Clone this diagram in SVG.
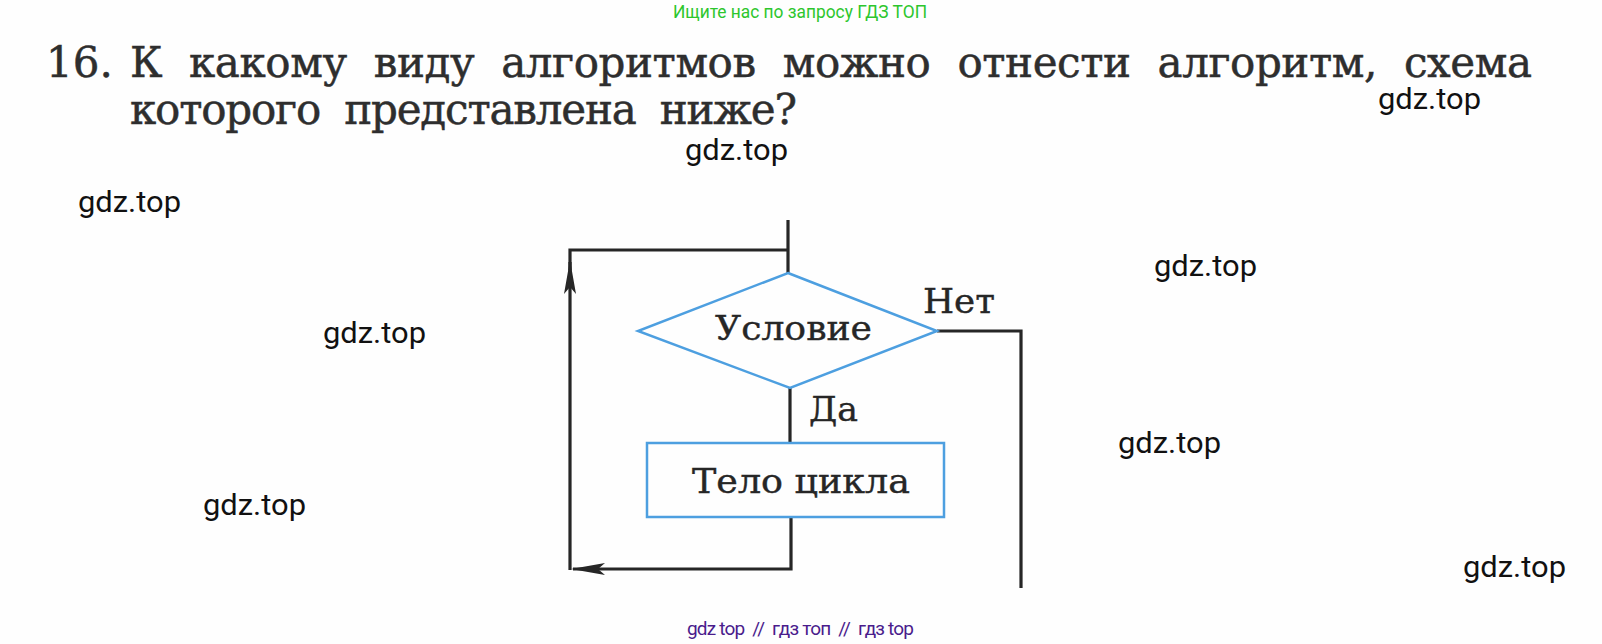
<svg xmlns="http://www.w3.org/2000/svg" width="1602" height="644" viewBox="0 0 1602 644">
<style>
.hdr{font-family:"DejaVu Serif","Liberation Serif",serif;font-size:42px;fill:#2e2e2e;stroke:#2e2e2e;stroke-width:0.5}
.lbl{font-family:"DejaVu Serif","Liberation Serif",serif;font-size:34px;fill:#262626;stroke:#262626;stroke-width:0.4}
.wm{font-family:Roboto,"Liberation Sans",sans-serif;font-size:29px;fill:#111}
.shape{fill:none;stroke:#4d9fe0;stroke-width:2.5}
.conn{fill:none;stroke:#262626;stroke-width:3.2;stroke-linejoin:miter}
</style>
<defs>
<marker id="arr" viewBox="0 0 34 13" refX="32" refY="6.5" markerWidth="34" markerHeight="13" markerUnits="userSpaceOnUse" orient="auto">
<path d="M0,0.5 L34,6.5 L0,12.5 L7,6.5 z" fill="#262626"/>
</marker>
</defs>
<rect width="1602" height="644" fill="#fefefe"/>
<text x="673" y="18" font-family="Roboto,'Liberation Sans',sans-serif" font-size="18" fill="#2dc62d" textLength="254" lengthAdjust="spacingAndGlyphs">Ищите нас по запросу ГДЗ ТОП</text>
<g id="question">
<text class="hdr" x="46" y="77">16.</text>
<text class="hdr" x="130" y="77" textLength="1402" lengthAdjust="spacing" word-spacing="14">К какому виду алгоритмов можно отнести алгоритм, схема</text>
<text class="hdr" x="130" y="124" textLength="667" lengthAdjust="spacing" word-spacing="12">которого представлена ниже?</text>
</g>
<g id="connectors">
<path class="conn" d="M788,220 V273"/>
<path class="conn" d="M790,388 V443"/>
<path class="conn" d="M791,517 V569 H573" marker-end="url(#arr)"/>
<path class="conn" d="M570,570 V262" marker-end="url(#arr)"/>
<path class="conn" d="M570,270 V250 H789"/>
<path class="conn" d="M937,331 H1021 V588"/>
</g>
<g id="condition">
<polygon class="shape" points="788,273 937,331 790,388 638,331"/>
<text class="lbl" x="715" y="340" textLength="157" lengthAdjust="spacingAndGlyphs">Условие</text>
</g>
<g id="body">
<rect class="shape" x="647" y="443" width="297" height="74"/>
<text class="lbl" x="692" y="493" textLength="218" lengthAdjust="spacingAndGlyphs">Тело цикла</text>
</g>
<g id="labels">
<text class="lbl" x="923" y="313" textLength="72" lengthAdjust="spacingAndGlyphs">Нет</text>
<text class="lbl" x="809" y="421" textLength="49" lengthAdjust="spacingAndGlyphs">Да</text>
</g>
<g id="watermarks">
<text class="wm" x="1378" y="109" textLength="103" lengthAdjust="spacingAndGlyphs">gdz.top</text>
<text class="wm" x="685" y="160" textLength="103" lengthAdjust="spacingAndGlyphs">gdz.top</text>
<text class="wm" x="78" y="212" textLength="103" lengthAdjust="spacingAndGlyphs">gdz.top</text>
<text class="wm" x="1154" y="276" textLength="103" lengthAdjust="spacingAndGlyphs">gdz.top</text>
<text class="wm" x="323" y="343" textLength="103" lengthAdjust="spacingAndGlyphs">gdz.top</text>
<text class="wm" x="1118" y="453" textLength="103" lengthAdjust="spacingAndGlyphs">gdz.top</text>
<text class="wm" x="203" y="515" textLength="103" lengthAdjust="spacingAndGlyphs">gdz.top</text>
<text class="wm" x="1463" y="577" textLength="103" lengthAdjust="spacingAndGlyphs">gdz.top</text>
</g>
<text x="687" y="635" font-family="Roboto,'Liberation Sans',sans-serif" font-size="19" fill="#4a1c8c" textLength="227" lengthAdjust="spacing" xml:space="preserve">gdz top  //  гдз топ  //  гдз top</text>
</svg>
